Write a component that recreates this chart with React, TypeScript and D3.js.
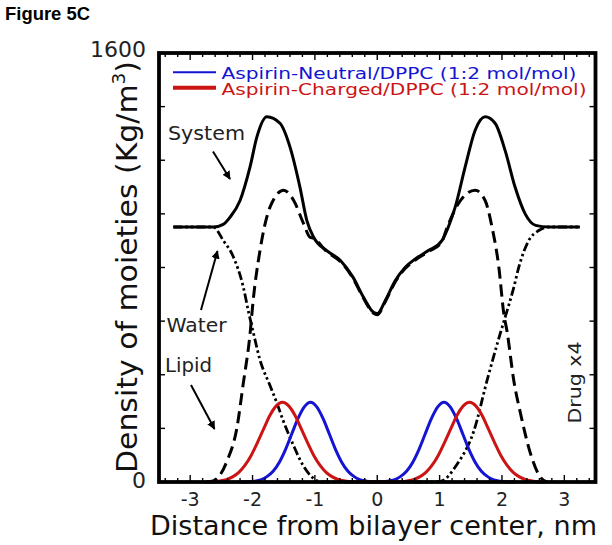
import React from 'react';
import * as d3 from 'd3';

// ---- Data ----
const xTickValues = [-3, -2, -1, 0, 1, 2, 3];
const xTickLabels = ['-3', '-2', '-1', '0', '1', '2', '3'];
const yTickValues = [0, 1600];
const yTickLabels = ['0', '1600'];

const systemX = [-3.27, -2.8, -2.63, -2.47, -2.36, -2.2, -2.04, -1.93, -1.77, -1.56, -1.4, -1.24, -1.13, -1.02, -0.81, -0.59, -0.39, -0.22, -0.06, 0, 0.13, 0.29, 0.45, 0.61, 0.82, 1.04, 1.14, 1.25, 1.41, 1.57, 1.73, 1.89, 2.05, 2.21, 2.37, 2.54, 2.75, 3.25];
const systemY = [951, 951, 951, 961, 988, 1050, 1175, 1287, 1362, 1338, 1250, 1100, 976, 913, 863, 826, 764, 689, 633, 628, 677, 751, 801, 832, 863, 901, 951, 1025, 1175, 1312, 1362, 1338, 1237, 1100, 1001, 957, 951, 951];

const waterX = [-3.27, -2.8, -2.63, -2.47, -2.31, -2.15, -2.06, -1.99, -1.88, -1.72, -1.61, -1.51, -1.35, -1.19, -1.03, -0.9, 0, 0.9, 1.01, 1.28, 1.55, 1.76, 1.97, 2.05, 2.19, 2.27, 2.43, 2.59, 2.75, 3.25];
const waterY = [951, 951, 951, 901, 841, 729, 630, 560, 455, 360, 295, 230, 140, 62, 15, 0, 0, 0, 2, 66, 191, 378, 552, 614, 726, 801, 901, 938, 951, 951];

const lipidX = [-2.75, -2.63, -2.41, -2.25, -2.15, -2.04, -1.99, -1.88, -1.72, -1.5, -1.34, -1.18, -1.08, -1.02, -0.81, -0.59, -0.39, -0.22, -0.06, 0, 0.13, 0.29, 0.45, 0.61, 0.82, 1.04, 1.09, 1.3, 1.57, 1.73, 1.84, 1.95, 2.03, 2.08, 2.19, 2.3, 2.46, 2.62, 2.72];
const lipidY = [0, 4, 78, 203, 365, 552, 677, 864, 1025, 1088, 1050, 963, 913, 909, 859, 822, 760, 685, 629, 624, 673, 747, 797, 828, 859, 897, 930, 1038, 1088, 1050, 951, 801, 627, 564, 378, 253, 104, 16, 0];

const neutralX = [-2.2, -2.07, -1.97, -1.87, -1.77, -1.67, -1.57, -1.47, -1.37, -1.27, -1.17, -1.07, -0.97, -0.87, -0.77, -0.67, -0.57, -0.47, -0.37, -0.27, -0.17, 0, 0.17, 0.27, 0.37, 0.47, 0.57, 0.67, 0.77, 0.87, 0.97, 1.07, 1.17, 1.27, 1.37, 1.47, 1.57, 1.67, 1.77, 1.87, 1.97, 2.07, 2.2];
const neutralY = [0, 1, 3, 8, 20, 40, 74, 122, 180, 237, 280, 297, 280, 237, 180, 122, 74, 40, 20, 8, 3, 0, 3, 8, 20, 40, 74, 122, 180, 237, 280, 297, 280, 237, 180, 122, 74, 40, 20, 8, 3, 1, 0];

const chargedX = [-2.72, -2.62, -2.52, -2.42, -2.32, -2.22, -2.12, -2.02, -1.92, -1.82, -1.72, -1.62, -1.52, -1.42, -1.32, -1.22, -1.12, -1.02, -0.92, -0.82, -0.72, -0.62, -0.52, -0.42, -0.3, 0, 0.28, 0.38, 0.48, 0.58, 0.68, 0.78, 0.88, 0.98, 1.08, 1.18, 1.28, 1.38, 1.48, 1.58, 1.68, 1.78, 1.88, 1.98, 2.08, 2.18, 2.28, 2.38, 2.48, 2.58, 2.7];
const chargedY = [0, 1, 4, 9, 19, 36, 63, 100, 148, 199, 249, 284, 297, 284, 249, 199, 148, 100, 63, 36, 19, 9, 4, 1, 0, 0, 0, 1, 4, 9, 19, 36, 63, 100, 148, 199, 249, 284, 297, 284, 249, 199, 148, 100, 63, 36, 19, 9, 4, 1, 0];

const legendLabels = ['Aspirin-Neutral/DPPC (1:2 mol/mol)', 'Aspirin-Charged/DPPC (1:2 mol/mol)'];

const BLUE = '#1414d2';
const RED = '#cc1414';
const FONT = '"DejaVu Sans", Verdana, sans-serif';

export default function App() {
  const W = 612;
  const H = 545;
  const left = 159, right = 595.5, top = 53, bottom = 482;
  const x = d3.scaleLinear().domain([-3.5, 3.5]).range([left, right]);
  const y = d3.scaleLinear().domain([0, 1600]).range([bottom, top]);

  const path = (xs: number[], ys: number[]) =>
    d3.line<number>()
      .x((_, i) => x(xs[i]))
      .y((d) => y(d))
      .curve(d3.curveMonotoneX)(ys) || '';

  const minorTicks = d3.range(-34, 35, 2).map((v) => v / 10);
  const yTicks = d3.range(0, 1601, 200);

  return (
    <svg width={W} height={H} viewBox={`0 0 ${W} ${H}`}
      style={{ position: 'absolute', left: 0, top: 0, background: '#fff' }}>
      <defs>
        <marker id="ah" viewBox="0 0 10 10" refX="9" refY="5" markerWidth="4.2" markerHeight="4.2" orient="auto">
          <path d="M0,0 L10,5 L0,10 z" fill="#000" />
        </marker>
      </defs>

      <text x={5} y={19.5} fontFamily='"Liberation Sans", Arial, sans-serif' fontWeight="bold" fontSize={18}
        textLength={85} lengthAdjust="spacingAndGlyphs">Figure 5C</text>

      {/* curves */}
      <path d={path(lipidX, lipidY)} fill="none" stroke="#000" strokeWidth={3} strokeDasharray="12,6" />
      <path d={path(waterX, waterY)} fill="none" stroke="#000" strokeWidth={2.8} strokeDasharray="9,3,2.5,3,2.5,3" />
      <path d={path(neutralX, neutralY)} fill="none" stroke={BLUE} strokeWidth={3} />
      <path d={path(chargedX, chargedY)} fill="none" stroke={RED} strokeWidth={3} />
      <path d={path(systemX, systemY)} fill="none" stroke="#000" strokeWidth={3} />

      {/* ticks */}
      {minorTicks.map((v, i) => {
        const major = Math.abs(v - Math.round(v)) < 1e-6;
        const len = major ? 7 : 4;
        return (
          <g key={`xt${i}`} stroke="#000" strokeWidth={1.4}>
            <line x1={x(v)} x2={x(v)} y1={bottom} y2={bottom - len} />
            <line x1={x(v)} x2={x(v)} y1={top} y2={top + len} />
          </g>
        );
      })}
      {yTicks.map((v, i) => (
        <g key={`yt${i}`} stroke="#000" strokeWidth={1.4}>
          <line x1={left} x2={left + 6} y1={y(v)} y2={y(v)} />
          <line x1={right} x2={right - 6} y1={y(v)} y2={y(v)} />
        </g>
      ))}

      {/* frame */}
      <rect x={left} y={top} width={right - left} height={bottom - top} fill="none" stroke="#000" strokeWidth={3.8} />

      {/* tick labels */}
      {xTickValues.map((v, i) => (
        <text key={`xl${i}`} x={x(v)} y={506} textAnchor="middle" fontFamily={FONT} fontSize={19} fill="#222">
          {xTickLabels[i]}
        </text>
      ))}
      {yTickValues.map((v, i) => (
        <text key={`yl${i}`} x={146} y={y(v) + (v === 0 ? 6 : 4)} textAnchor="end" fontFamily={FONT} fontSize={22} fill="#222">
          {yTickLabels[i]}
        </text>
      ))}

      {/* axis titles */}
      <text x={150} y={535} fontFamily={FONT} fontSize={26} fill="#111"
        textLength={447} lengthAdjust="spacingAndGlyphs">Distance from bilayer center, nm</text>
      <text transform="translate(137,473) rotate(-90)" fontFamily={FONT} fontSize={29} fill="#111"
        textLength={412} lengthAdjust="spacingAndGlyphs">
        Density of moieties (Kg/m<tspan dy={-12} fontSize={18}>3</tspan><tspan dy={12}>)</tspan>
      </text>

      {/* legend */}
      <line x1={173} x2={216} y1={72.3} y2={72.3} stroke={BLUE} strokeWidth={2} />
      <text x={221.5} y={79.3} fontFamily={FONT} fontSize={16.5} fill={BLUE}
        textLength={355} lengthAdjust="spacingAndGlyphs">{legendLabels[0]}</text>
      <line x1={173} x2={216} y1={87.7} y2={87.7} stroke={RED} strokeWidth={4} />
      <text x={221.5} y={95} fontFamily={FONT} fontSize={16.5} fill={RED}
        textLength={365} lengthAdjust="spacingAndGlyphs">{legendLabels[1]}</text>

      {/* annotations */}
      <text x={168} y={139.5} fontFamily={FONT} fontSize={19} fill="#222" textLength={77} lengthAdjust="spacingAndGlyphs">System</text>
      <line x1={213} x2={230} y1={151.5} y2={179} stroke="#000" strokeWidth={2} markerEnd="url(#ah)" />
      <text x={166.5} y={331.5} fontFamily={FONT} fontSize={19} fill="#222" textLength={60} lengthAdjust="spacingAndGlyphs">Water</text>
      <line x1={201} x2={217.5} y1={310} y2={251} stroke="#000" strokeWidth={2} markerEnd="url(#ah)" />
      <text x={165} y={372} fontFamily={FONT} fontSize={19} fill="#222" textLength={47} lengthAdjust="spacingAndGlyphs">Lipid</text>
      <line x1={191} x2={214.5} y1={385} y2={429} stroke="#000" strokeWidth={2} markerEnd="url(#ah)" />
      <text transform="translate(581,423.5) rotate(-90)" fontFamily={FONT} fontSize={17} fill="#222"
        textLength={82} lengthAdjust="spacingAndGlyphs">Drug x4</text>
    </svg>
  );
}
